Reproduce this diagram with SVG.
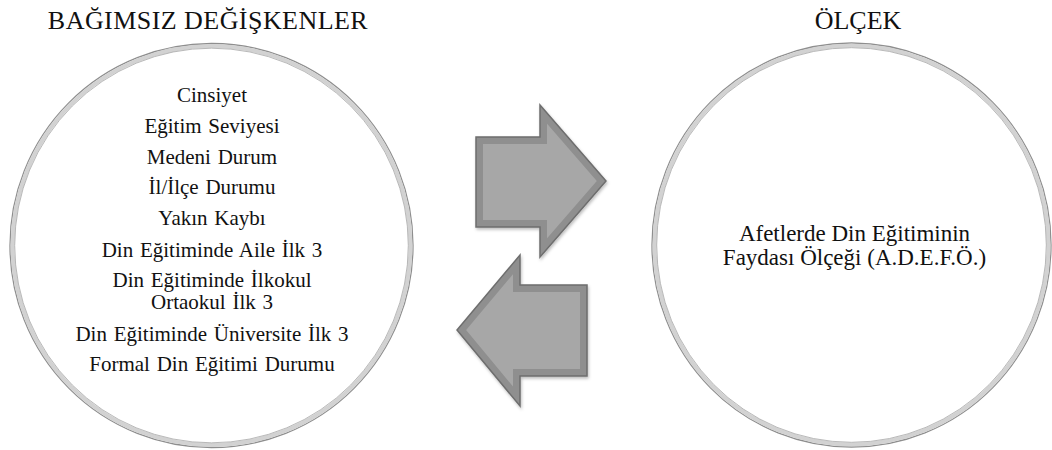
<svg xmlns="http://www.w3.org/2000/svg" xmlns:xlink="http://www.w3.org/1999/xlink" width="1052" height="450" viewBox="0 0 1052 450">
<style>
  .title { font-family: "Liberation Serif", "Times New Roman", serif; font-size: 26px; fill: #111; text-anchor: middle; }
  .wide { letter-spacing: 0.45px; }
  .item { font-family: "Liberation Serif", "Times New Roman", serif; font-size: 21px; fill: #111; text-anchor: middle; word-spacing: 1.5px; }
  .scale { font-family: "Liberation Serif", "Times New Roman", serif; font-size: 23px; fill: #111; text-anchor: middle; }
  .ring-outer { fill: none; stroke: #8e8e8e; stroke-width: 1.3; }
  .ring-band { fill: none; stroke: #d2d2d2; stroke-width: 4; }
  .ring-inner { fill: none; stroke: #a8a8a8; stroke-width: 0.8; }
  .arrow-fill { fill: #a7a7a7; }
  .arrow-band { fill: none; stroke: #8f8f8f; stroke-width: 14; stroke-linejoin: miter; }
  .arrow-line { fill: none; stroke: #6e6e6e; stroke-width: 1.5; stroke-linejoin: miter; }
</style>
<defs>
  <polygon id="rArrow" points="476,137 540,137 540,105 606,181 540,257 540,227 476,227"/>
  <polygon id="lArrow" points="587,285 520,285 520,255 457,330 520,406 520,376 587,376"/>
  <clipPath id="clipR"><use xlink:href="#rArrow"/></clipPath>
  <clipPath id="clipL"><use xlink:href="#lArrow"/></clipPath>
  <filter id="shadow" x="-20%" y="-20%" width="140%" height="140%">
    <feDropShadow dx="1" dy="2" stdDeviation="1.5" flood-color="#000" flood-opacity="0.25"/>
  </filter>
</defs>

<g id="title-left"><text class="title wide" x="208" y="29">BAĞIMSIZ DEĞİŞKENLER</text></g>
<g id="title-right"><text class="title" x="858" y="29">ÖLÇEK</text></g>

<g id="node-independent">
  <ellipse class="ring-outer" cx="211.5" cy="245.5" rx="201.5" ry="202"/>
  <ellipse class="ring-band" cx="211.5" cy="245.5" rx="199" ry="199.5"/>
  <ellipse class="ring-inner" cx="211.5" cy="245.5" rx="196.8" ry="197.3"/>
  <text class="item" x="212" y="101.7">Cinsiyet</text>
  <text class="item" x="212" y="133.3">Eğitim Seviyesi</text>
  <text class="item" x="212" y="164">Medeni Durum</text>
  <text class="item" x="212" y="194.3">İl/İlçe Durumu</text>
  <text class="item" x="212" y="225">Yakın Kaybı</text>
  <text class="item" x="212" y="256.7">Din Eğitiminde Aile İlk 3</text>
  <text class="item" x="212" y="287.3">Din Eğitiminde İlkokul</text>
  <text class="item" x="212" y="309.3">Ortaokul İlk 3</text>
  <text class="item" x="212" y="340.7">Din Eğitiminde Üniversite İlk 3</text>
  <text class="item" x="212" y="371">Formal Din Eğitimi Durumu</text>
</g>

<g id="node-scale">
  <ellipse class="ring-outer" cx="851.5" cy="245" rx="199.5" ry="202"/>
  <ellipse class="ring-band" cx="851.5" cy="245" rx="197" ry="199.5"/>
  <ellipse class="ring-inner" cx="851.5" cy="245" rx="194.8" ry="197.3"/>
  <text class="scale" x="854.5" y="240.7">Afetlerde Din Eğitiminin</text>
  <text class="scale" x="854.5" y="265">Faydası Ölçeği (A.D.E.F.Ö.)</text>
</g>

<g id="connectors">
  <g id="arrow-right" filter="url(#shadow)">
    <use xlink:href="#rArrow" class="arrow-fill"/>
    <use xlink:href="#rArrow" class="arrow-band" clip-path="url(#clipR)"/>
    <use xlink:href="#rArrow" class="arrow-line"/>
  </g>
  <g id="arrow-left" filter="url(#shadow)">
    <use xlink:href="#lArrow" class="arrow-fill"/>
    <use xlink:href="#lArrow" class="arrow-band" clip-path="url(#clipL)"/>
    <use xlink:href="#lArrow" class="arrow-line"/>
  </g>
</g>
</svg>
